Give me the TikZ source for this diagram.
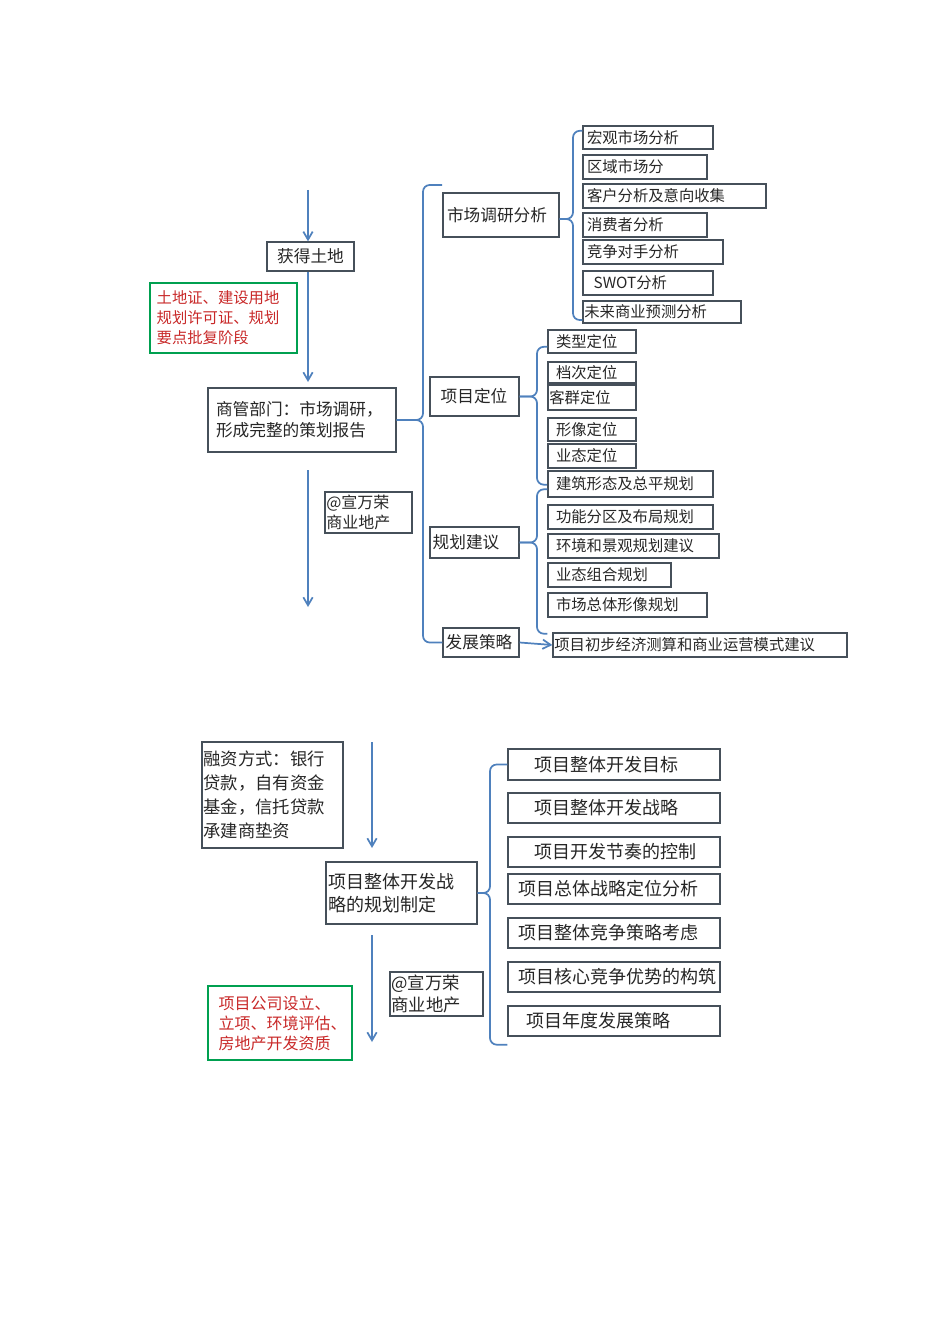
\documentclass[tikz,border=0pt]{standalone}
\usepackage{fontspec}
\setmainfont{Noto Sans CJK SC}
\usetikzlibrary{calc,arrows.meta}
\definecolor{bl}{RGB}{79,129,189}
\definecolor{gr}{RGB}{0,160,80}
\definecolor{rd}{RGB}{200,40,40}
\definecolor{bd}{RGB}{70,80,90}
\newcommand\mybox[7][]{%
  \node[box,#1,text width={(#5-#3)*0.75pt-2*\pgfkeysvalueof{/pgf/inner xsep}},minimum height={(#6-#4)*0.75pt}] (#2) at ({(#3+#5)/2},{(#4+#6)/2}) {#7};}
\begin{document}
\begin{tikzpicture}[x=0.75pt,y=-0.75pt,
  box/.style={draw=bd,line width=1pt,inner xsep=3pt,inner ysep=1pt,align=left,font=\fontsize{11.5pt}{13pt}\selectfont,text=black!85},
  br/.style={draw=bl,line width=1.3pt,rounded corners=5pt},
  arr/.style={draw=bl,line width=1.3pt,-{Straight Barb[length=6pt,width=7pt]}}]
\useasboundingbox (0,0) rectangle (950,1344);
% ---- top left column
\mybox[font=\fontsize{12.5pt}{14pt}\selectfont,align=center]{land}{267}{242}{354}{271}{获得土地}
\mybox[draw=gr,text=rd,inner xsep=5pt,font=\fontsize{11.5pt}{15pt}\selectfont]{perm}{150}{283}{297}{353}{土地证、建设用地\\规划许可证、规划\\要点批复阶段}
\mybox[font=\fontsize{12.5pt}{16pt}\selectfont,inner xsep=6pt]{mgmt}{208}{388}{396}{452}{商管部门：市场调研，\\形成完整的策划报告}
\mybox[font=\fontsize{12pt}{15pt}\selectfont,inner xsep=1pt]{wm1}{325}{492}{412}{533}{@宣万荣\\商业地产}
\coordinate (a1) at (308,190); \coordinate (a2) at (308,607);
\coordinate (a3) at (308,272); \coordinate (a4) at (308,382); \coordinate (a5) at (308,470);
\draw[arr] (a1) -- (a1 |- land.north);
\draw[arr] (a3) -- (a4);
\draw[arr] (a5) -- (a2);
% ---- level 1
\mybox[font=\fontsize{12.5pt}{14pt}\selectfont]{mkt}{443}{193}{559}{237}{市场调研分析}
\mybox[font=\fontsize{12.5pt}{14pt}\selectfont,inner xsep=8pt]{pos}{430}{377}{519}{416}{项目定位}
\mybox[font=\fontsize{12.5pt}{14pt}\selectfont,inner xsep=2pt]{plan}{430}{527}{519}{558}{规划建议}
\mybox[font=\fontsize{12.5pt}{14pt}\selectfont,inner xsep=2pt]{dev}{443}{628}{519}{657}{发展策略}
\coordinate (b0) at (423,0);
\coordinate (t0) at (442,185);
\draw[br] (mgmt.east) -- (mgmt.east -| b0) |- (t0);
\draw[br] (mgmt.east) -- (mgmt.east -| b0) |- (dev.west);
% ---- market items
\mybox{m1}{583}{126}{713}{149}{宏观市场分析}
\mybox{m2}{583}{155}{707}{179}{区域市场分}
\mybox{m3}{583}{184}{766}{208}{客户分析及意向收集}
\mybox{m4}{583}{213}{707}{237}{消费者分析}
\mybox{m5}{583}{240}{723}{264}{竞争对手分析}
\mybox[inner xsep=8pt]{m6}{583}{271}{713}{295}{SWOT分析}
\mybox[inner xsep=1pt]{m7}{583}{301}{741}{323}{未来商业预测分析}
\coordinate (b1) at (573,0);
\draw[br] ([yshift=-3]mkt.east) -- ([yshift=-3]mkt.east -| b1) |- ([yshift=5]m1.west);
\draw[br] ([yshift=-3]mkt.east) -- ([yshift=-3]mkt.east -| b1) |- ([yshift=-6]m7.west);
% ---- positioning items
\mybox[inner xsep=6pt]{p1}{548}{330}{636}{353}{类型定位}
\mybox[inner xsep=6pt]{p2}{548}{362}{636}{383}{档次定位}
\mybox[inner xsep=1pt]{p3}{548}{385}{636}{410}{客群定位}
\mybox[inner xsep=6pt]{p4}{548}{418}{636}{441}{形像定位}
\mybox[inner xsep=6pt]{p5}{548}{444}{636}{468}{业态定位}
\coordinate (b2) at (537,0);
\draw[br] (pos.east) -- (pos.east -| b2) |- ([yshift=-4]p1.west);
\draw[br] (pos.east) -- (pos.east -| b2) |- ([yshift=-12]p5.south west);
% ---- planning items
\mybox[inner xsep=6pt]{q1}{548}{471}{713}{497}{建筑形态及总平规划}
\mybox[inner xsep=6pt]{q2}{548}{505}{713}{529}{功能分区及布局规划}
\mybox[inner xsep=6pt]{q3}{548}{534}{719}{558}{环境和景观规划建议}
\mybox[inner xsep=6pt]{q4}{548}{563}{671}{587}{业态组合规划}
\mybox[inner xsep=6pt]{q5}{548}{593}{707}{617}{市场总体形像规划}
\draw[br] (plan.east) -- (plan.east -| b2) |- ([yshift=-4]q1.west);
\draw[br] (plan.east) -- (plan.east -| b2) |- ([yshift=-12]q5.south west);
% ---- dev
\mybox[inner xsep=1pt]{d1}{553}{633}{847}{657}{项目初步经济测算和商业运营模式建议}
\draw[arr] (dev.east) -- (d1.west);
% ---- bottom
\mybox[font=\fontsize{13pt}{18pt}\selectfont,inner xsep=1pt]{fin}{202}{742}{343}{848}{融资方式：银行\\贷款，自有资金\\基金，信托贷款\\承建商垫资}
\mybox[font=\fontsize{13.5pt}{17pt}\selectfont,inner xsep=2pt]{strat}{326}{862}{477}{924}{项目整体开发战\\略的规划制定}
\mybox[font=\fontsize{13pt}{17pt}\selectfont,inner xsep=1pt]{wm2}{390}{972}{483}{1016}{@宣万荣\\商业地产}
\mybox[draw=gr,text=rd,inner xsep=8pt,font=\fontsize{12pt}{15pt}\selectfont]{co}{208}{986}{352}{1060}{项目公司设立、\\立项、环境评估、\\房地产开发资质}
\coordinate (c1) at (372,742); \coordinate (c2) at (372,848);
\coordinate (c3) at (372,935); \coordinate (c4) at (372,1042);
\draw[arr] (c1) -- (c2);
\draw[arr] (c3) -- (c4);
\begin{scope}[box/.append style={font=\fontsize{13.5pt}{15pt}\selectfont}]
\mybox[inner xsep=20pt]{s1}{508}{749}{720}{780}{项目整体开发目标}
\mybox[inner xsep=20pt]{s2}{508}{793}{720}{823}{项目整体开发战略}
\mybox[inner xsep=20pt]{s3}{508}{837}{720}{867}{项目开发节奏的控制}
\mybox[inner xsep=8pt]{s4}{508}{874}{720}{904}{项目总体战略定位分析}
\mybox[inner xsep=8pt]{s5}{508}{918}{720}{948}{项目整体竞争策略考虑}
\mybox[inner xsep=8pt]{s6}{508}{962}{720}{992}{项目核心竞争优势的构筑}
\mybox[inner xsep=14pt]{s7}{508}{1006}{720}{1036}{项目年度发展策略}
\end{scope}
\coordinate (b3) at (490,0);
\draw[br] (strat.east) -- (strat.east -| b3) |- (s1.west);
\draw[br] (strat.east) -- (strat.east -| b3) |- ([yshift=-6]s7.south west);
\end{tikzpicture}
\end{document}
